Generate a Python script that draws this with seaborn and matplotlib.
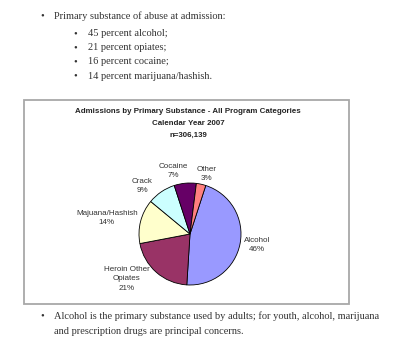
import matplotlib
matplotlib.use("Agg")
import matplotlib.pyplot as plt
import seaborn as sns
from matplotlib.patches import Rectangle

# chart data
substances = ["Alcohol", "Heroin Other\nOpiates", "Majuana/Hashish", "Crack", "Cocaine", "Other"]
shares = [46, 21, 14, 9, 7, 3]
slice_colors = ["#9999FF", "#993366", "#FFFFCC", "#CCFFFF", "#660066", "#FF8080"]

title_lines = ["Admissions by Primary Substance - All Program Categories",
               "Calendar Year 2007", "n=306,139"]

intro = "Primary substance of abuse at admission:"
sub_points = ["45 percent alcohol;", "21 percent opiates;", "16 percent cocaine;",
              "14 percent marijuana/hashish."]
closing = ["Alcohol is the primary substance used by adults; for youth, alcohol, marijuana",
           "and prescription drugs are principal concerns."]

sns.set_style("white")
W, H = 400, 341
fig = plt.figure(figsize=(W / 100, H / 100), dpi=100)
fig.patch.set_facecolor("white")


def fx(x):
    return x / W


def fy(y):
    return 1 - y / H


serif = ["Liberation Serif", "DejaVu Serif"]
sans = ["Liberation Sans", "DejaVu Sans"]
body_col = "#333333"
bsize = 7.5

# bullet text above the chart
fig.text(fx(40), fy(16), "\u2022", fontsize=bsize, family=serif, color=body_col, va="center", ha="left")
fig.text(fx(54), fy(16), intro, fontsize=bsize, family=serif, color=body_col, va="center")
for i, s in enumerate(sub_points):
    y = 33.5 + i * 14.2
    fig.text(fx(73), fy(y), "\u2022", fontsize=bsize, family=serif, color=body_col, va="center")
    fig.text(fx(88), fy(y), s, fontsize=bsize, family=serif, color=body_col, va="center")

# chart frame
fig.patches.append(Rectangle((fx(24), fy(304)), fx(349) - fx(24), fy(100) - fy(304),
                             transform=fig.transFigure, fill=False, edgecolor="#a8a8a8", linewidth=1.3))

for i, t in enumerate(title_lines):
    fig.text(fx(188), fy(112 + i * 11.7), t, fontsize=5.7, family=sans, weight="bold",
             color="#222222", ha="center", va="center")

# pie
cx, cy, R = 190, 234, 51
box = 110
ax = fig.add_axes([fx(cx - box), fy(cy + box), 2 * box / W, 2 * box / H])
wedges, _ = ax.pie(shares, colors=slice_colors, startangle=72, counterclock=False,
                   wedgeprops=dict(edgecolor="black", linewidth=0.6))
lim = box / R
ax.set_xlim(-lim, lim)
ax.set_ylim(-lim, lim)
ax.set_aspect("equal")
ax.axis("off")

label_pos = [(1.31, -0.22), (-1.24, -0.88), (-1.63, 0.31), (-0.94, 0.94), (-0.33, 1.24), (0.33, 1.18)]
for name, pct, (lx, ly) in zip(substances, shares, label_pos):
    ax.text(lx, ly, f"{name}\n{pct}%", fontsize=5.8, family=sans, color="#333333",
            ha="center", va="center", linespacing=1.45)

# bullet text below the chart
fig.text(fx(40), fy(316), "\u2022", fontsize=bsize, family=serif, color=body_col, va="center")
for i, line in enumerate(closing):
    fig.text(fx(54), fy(316 + i * 15), line, fontsize=bsize, family=serif, color=body_col, va="center")

fig.savefig("out.png", dpi=100, facecolor="white")
